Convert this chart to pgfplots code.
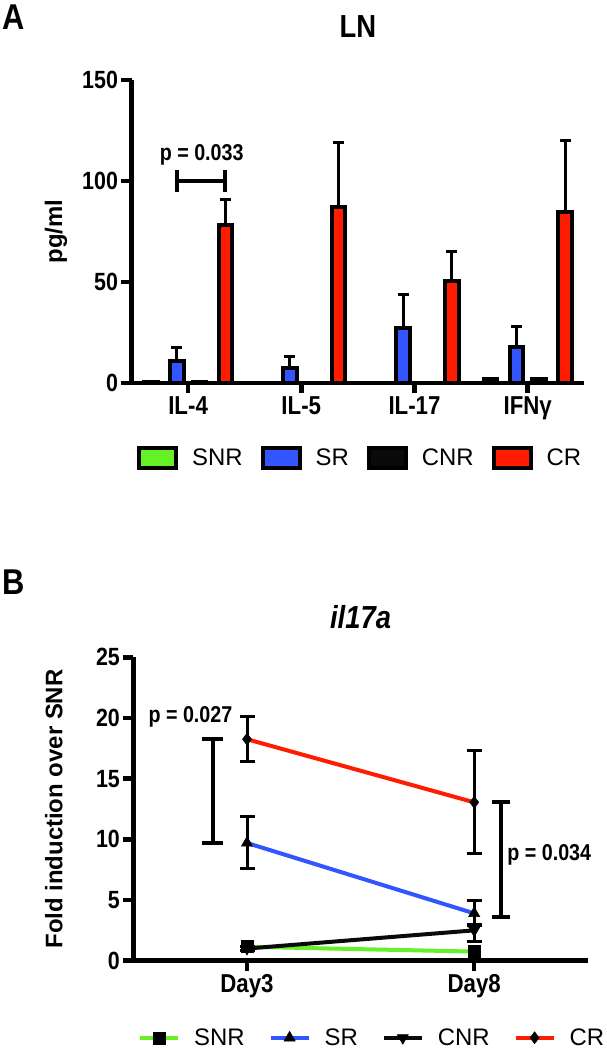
\documentclass[border=0pt]{standalone}
\usepackage{fontspec}
\setmainfont{Liberation Sans}[FakeStretch=0.86]
\newfontfamily\rotfont{Liberation Sans}
\usepackage{pgfplots}
\pgfplotsset{compat=1.18}

\definecolor{cSNR}{RGB}{102,240,40}
\definecolor{cSR}{RGB}{50,85,255}
\definecolor{cCNR}{RGB}{10,10,10}
\definecolor{cCR}{RGB}{255,28,0}

\newcommand{\fs}[1]{\fontsize{#1}{#1}\selectfont}

\pgfplotsset{
  panel/.style={
    scale only axis,
    axis lines=left,
    axis line style={-, line width=4.5bp, black},
    tick align=outside,
    major tick length=10bp,
    tick style={line width=4.5bp, black},
    yticklabel style={font=\bfseries\fs{25}},
    xticklabel style={font=\bfseries\fs{26}},
    /pgf/number format/assume math mode=true,
    title style={font=\bfseries\fs{32}},
    every axis y label/.style={rotate=90, anchor=center, font=\rotfont\bfseries\fs{24}},
    legend style={draw=none, fill=none, inner sep=0pt, font=\rotfont\fs{24},
      /tikz/every odd column/.append style={column sep=12bp}},
    legend columns=4,
    clip=false,
  },
  barplot/.style={ybar, bar width=0.12, bar shift=0pt, fill=#1, draw=black, line width=4bp,
    legend image code/.code={\draw[##1,/tikz/.cd] (0bp,-10bp) rectangle (37bp,10bp);}},
  upbars/.style={error bars/.cd, y dir=plus, y explicit,
    error bar style={line width=3bp, black},
    error mark options={rotate=90, line width=3bp, mark size=5.5bp, black}},
  bothbars/.style={error bars/.cd, y dir=both, y explicit,
    error bar style={line width=3bp, black},
    error mark options={rotate=90, line width=3bp, mark size=7.5bp, black}},
}

\begin{document}
\begin{tikzpicture}
\useasboundingbox (0,0) rectangle (607bp,1050bp);

\node[font=\bfseries\fs{36}] at (14bp,1033bp) {A};
\node[font=\bfseries\fs{36}] at (14bp,467.5bp) {B};

% panel A: cytokines in LN
\begin{axis}[panel,
  at={(131.5bp,667bp)}, anchor=south west,
  width=452.8bp, height=303bp,
  xmin=0.5, xmax=4.5, ymin=0, ymax=150,
  xtick={1,2,3,4}, xticklabels={IL-4,IL-5,IL-17,IFNγ},
  ytick={0,50,100,150},
  title={LN},
  title style={at={(axis description cs:0.5,1.158)}, anchor=center},
  ylabel={pg/ml},
  ylabel style={at={(axis description cs:-0.1667,0.5)}},
  legend style={at={(axis description cs:0.012,-0.2475)}, anchor=west,
    /tikz/every even column/.append style={column sep=16bp}},
]
\addplot[barplot=cSNR] coordinates {(0.67,0.3) (1.67,0) (2.67,0) (3.67,2)};
\addlegendentry{SNR}
\addplot[barplot=cSR, upbars] coordinates {
  (0.90,10.9) +- (0,6.6)
  (1.90,7.3)  +- (0,5.7)
  (2.90,27)   +- (0,16.6)
  (3.90,17.8) +- (0,10.2)
};
\addlegendentry{SR}
\addplot[barplot=cCNR] coordinates {(1.10,0.3) (2.10,0) (3.10,0) (4.10,2)};
\addlegendentry{CNR}
\addplot[barplot=cCR, upbars] coordinates {
  (1.33,78)   +- (0,12.6)
  (2.33,87)   +- (0,32)
  (3.33,50.6) +- (0,14.4)
  (4.33,84.6) +- (0,35.4)
};
\addlegendentry{CR}

\draw[line width=4bp] (axis cs:0.90,100) -- (axis cs:1.33,100);
\draw[line width=4bp] (axis cs:0.90,94.6) -- (axis cs:0.90,105.4);
\draw[line width=4bp] (axis cs:1.33,94.6) -- (axis cs:1.33,105.4);
\node[font=\bfseries\fs{23}] at (axis cs:1.12,113) {p = 0.033};
\end{axis}

% panel B: il17a time course
\begin{axis}[panel,
  at={(133.4bp,89.3bp)}, anchor=south west,
  width=454.4bp, height=303.4bp,
  xmin=0.5, xmax=2.5, ymin=0, ymax=25,
  xtick={1,2}, xticklabels={Day3,Day8},
  ytick={0,5,10,15,20,25},
  title={\itshape il17a},
  title style={at={(axis description cs:0.5,1.112)}, anchor=center},
  ylabel={Fold induction over SNR},
  ylabel style={at={(axis description cs:-0.175,0.5)}},
  legend style={at={(axis description cs:0.01,-0.254)}, anchor=west,
    /tikz/every even column/.append style={column sep=22bp}},
  legend image code/.code={\draw[mark repeat=2, mark phase=2, #1]
    plot coordinates {(0bp,0bp) (19bp,0bp) (38bp,0bp)};},
]
\addplot[cSNR, line width=4bp, mark=square*, mark size=6bp,
  mark options={fill=black, draw=black, line width=0.5bp}]
  coordinates {(1,1.15) (2,0.75)};
\addlegendentry{SNR}
\addplot[cSR, line width=4bp, mark=triangle*, mark size=6.5bp,
  mark options={fill=black, draw=black, line width=0.5bp}, bothbars]
  coordinates {(1,9.7) += (0,2.2) -= (0,2.1) (2,3.9) += (0,1.05) -= (0,1.0)};
\addlegendentry{SR}
\addplot[cCNR, line width=4bp, mark=triangle*, mark size=6.5bp,
  mark options={fill=black, draw=black, line width=0.5bp, rotate=180}, bothbars]
  coordinates {(1,1.0) += (0,0.2) -= (0,0.2) (2,2.5) += (0,0.45) -= (0,0.95)};
\addlegendentry{CNR}
\addplot[cCR, line width=4bp, mark=diamond*, mark size=6bp,
  mark options={fill=black, draw=black, line width=0.5bp}, bothbars]
  coordinates {(1,18.25) += (0,1.85) -= (0,1.85) (2,13.05) += (0,4.25) -= (0,4.25)};
\addlegendentry{CR}

\draw[line width=4bp] (axis cs:0.849,18.25) -- (axis cs:0.849,9.7);
\draw[line width=4bp] (axis cs:0.802,18.25) -- (axis cs:0.896,18.25);
\draw[line width=4bp] (axis cs:0.802,9.7) -- (axis cs:0.896,9.7);
\node[font=\bfseries\fs{23}] at (axis cs:0.751,20.1) {p = 0.027};

\draw[line width=4bp] (axis cs:2.119,13.05) -- (axis cs:2.119,3.6);
\draw[line width=4bp] (axis cs:2.079,13.05) -- (axis cs:2.159,13.05);
\draw[line width=4bp] (axis cs:2.079,3.6) -- (axis cs:2.159,3.6);
\node[font=\bfseries\fs{23}, anchor=west, inner sep=0pt] at (axis cs:2.145,8.7) {p = 0.034};
\end{axis}
\end{tikzpicture}
\end{document}
